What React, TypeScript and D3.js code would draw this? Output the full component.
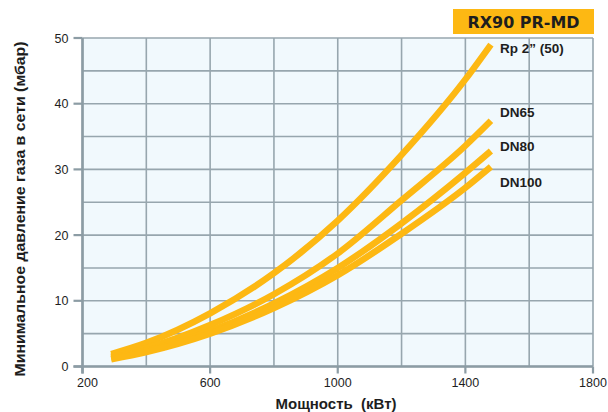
import React from "react";
import * as d3 from "d3";

const power = [290, 400, 600, 800, 1000, 1200, 1400, 1480];
const rp2 = [1.9, 3.6, 8.1, 14.2, 22.2, 32.2, 43.7, 49.0];
const dn65 = [1.5, 2.8, 6.3, 11.0, 17.2, 25.3, 33.6, 37.4];
const dn80 = [1.3, 2.4, 5.4, 9.6, 15.0, 21.8, 29.5, 32.8];
const dn100 = [1.1, 2.2, 5.0, 8.9, 13.9, 20.2, 27.2, 30.4];
const seriesNames = ["Rp 2\u201D (50)", "DN65", "DN80", "DN100"];
const labelValues = [48.5, 38.7, 33.6, 28.0];
const xTicks = [200, 600, 1000, 1400, 1800];
const yTicks = [0, 10, 20, 30, 40, 50];
const xGrid = [200, 400, 600, 800, 1000, 1200, 1400, 1600, 1800];
const yGrid = [0, 5, 10, 15, 20, 25, 30, 35, 40, 45, 50];
const title = "RX90 PR-MD";
const xTitle = "Мощность  (кВт)";
const yTitle = "Минимальное давление газа в сети (мбар)";

const ORANGE = "#FDB813";
const GRID = "#97a6ae";
const AXIS = "#8c9ca4";
const TEXT = "#1e1e1e";

export default function App() {
  const x = d3.scaleLinear().domain([200, 1800]).range([82.5, 593]);
  const y = d3.scaleLinear().domain([0, 50]).range([366.5, 38]);
  const series = [rp2, dn65, dn80, dn100];
  const line = d3
    .line<[number, number]>()
    .x((d) => x(d[0]))
    .y((d) => y(d[1]))
    .curve(d3.curveMonotoneX);

  const font = "'Liberation Sans', Arial, sans-serif";

  return (
    <div style={{ position: "absolute", left: 0, top: 0 }}>
      <svg width={608} height={412} style={{ display: "block" }}>
        <rect x={0} y={0} width={608} height={412} fill="#ffffff" />
        <rect
          x={x(200)}
          y={y(50)}
          width={x(1800) - x(200)}
          height={y(0) - y(50)}
          fill="#f1f9fd"
        />
        {xGrid.map((v) => (
          <line key={"gx" + v} x1={x(v)} x2={x(v)} y1={y(50)} y2={y(0)} stroke={GRID} strokeWidth={1.6} />
        ))}
        {yGrid.map((v) => (
          <line key={"gy" + v} x1={x(200)} x2={x(1800)} y1={y(v)} y2={y(v)} stroke={GRID} strokeWidth={1.6} />
        ))}
        <line x1={x(200)} x2={x(200)} y1={y(50)} y2={y(0) + 7} stroke={AXIS} strokeWidth={2.6} />
        <line x1={x(200) - 9} x2={x(1800)} y1={y(0)} y2={y(0)} stroke={AXIS} strokeWidth={2.6} />
        {yTicks.map((v) => (
          <line key={"yt" + v} x1={x(200) - 9} x2={x(200)} y1={y(v)} y2={y(v)} stroke={AXIS} strokeWidth={2.2} />
        ))}
        {xTicks.map((v) => (
          <line key={"xt" + v} x1={x(v)} x2={x(v)} y1={y(0)} y2={y(0) + 7} stroke={AXIS} strokeWidth={2.2} />
        ))}
        {yTicks.map((v) => (
          <text
            key={"yl" + v}
            x={x(200) - 14}
            y={y(v)}
            dy="0.36em"
            textAnchor="end"
            fontFamily={font}
            fontSize={12.5}
            fill={TEXT}
          >
            {v}
          </text>
        ))}
        {xTicks.map((v, i) => (
          <text
            key={"xl" + v}
            x={x(v) + (i === 0 ? 5 : 0)}
            y={387}
            textAnchor="middle"
            fontFamily={font}
            fontSize={12.5}
            fill={TEXT}
          >
            {v}
          </text>
        ))}
        {series.map((s, i) => (
          <path
            key={"s" + i}
            d={line(power.map((p, j) => [p, s[j]]) as [number, number][]) || ""}
            fill="none"
            stroke={ORANGE}
            strokeWidth={6.5}
            strokeLinecap="butt"
          />
        ))}
        {seriesNames.map((n, i) => (
          <text
            key={"n" + i}
            x={500}
            y={y(labelValues[i])}
            dy="0.36em"
            fontFamily={font}
            fontWeight="bold"
            fontSize={13.5}
            fill={TEXT}
          >
            {n}
          </text>
        ))}
        <rect x={453} y={9} width={141} height={25} fill={ORANGE} />
        <text
          x={523.5}
          y={27.5}
          textAnchor="middle"
          fontFamily="'DejaVu Sans', sans-serif"
          fontWeight="bold"
          fontSize={15.5}
          textLength={112}
          lengthAdjust="spacingAndGlyphs"
          fill={TEXT}
        >
          {title}
        </text>
        <text
          x={336}
          y={409}
          textAnchor="middle"
          fontFamily={font}
          fontWeight="bold"
          fontSize={15}
          fill={TEXT}
          style={{ whiteSpace: "pre" }}
        >
          {xTitle}
        </text>
        <text
          transform={`translate(24.5,209) rotate(-90)`}
          textAnchor="middle"
          fontFamily={font}
          fontWeight="bold"
          fontSize={15.5}
          textLength={335}
          lengthAdjust="spacingAndGlyphs"
          fill={TEXT}
        >
          {yTitle}
        </text>
      </svg>
    </div>
  );
}
